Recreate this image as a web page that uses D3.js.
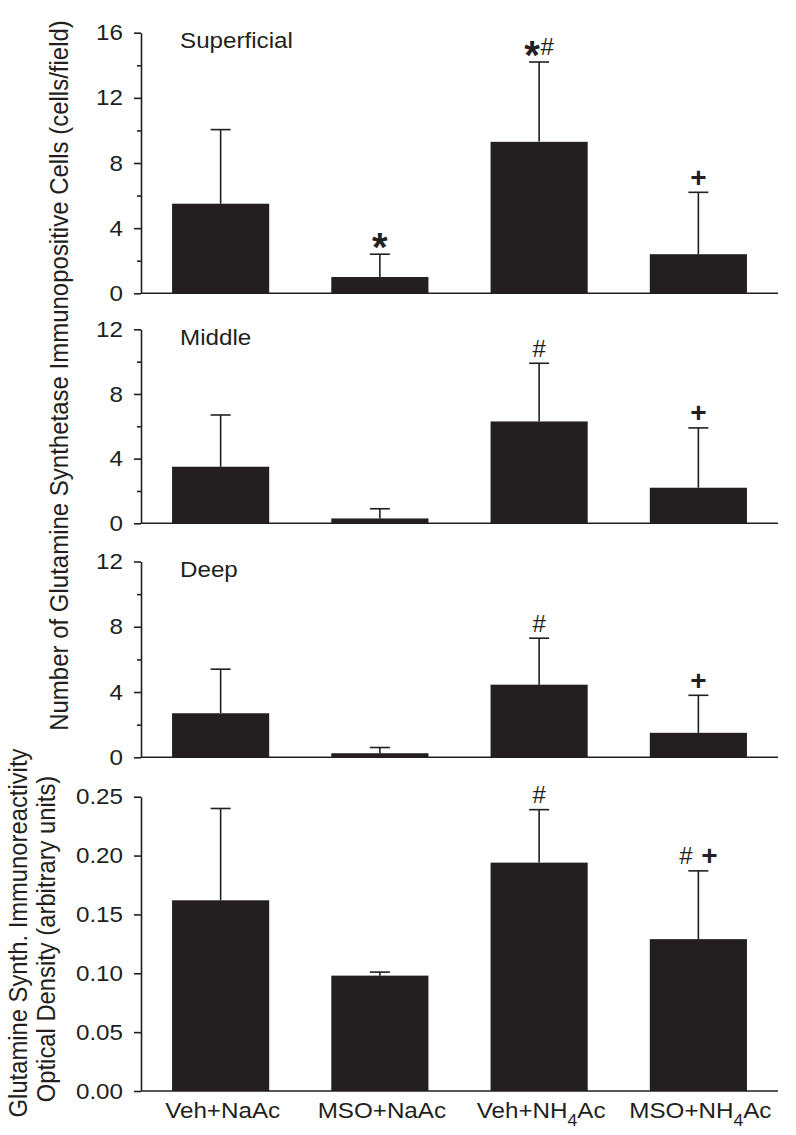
<!DOCTYPE html>
<html><head><meta charset="utf-8">
<script src="https://cdn.jsdelivr.net/npm/d3@7"></script>
<style>html,body{margin:0;padding:0;background:#fff;}</style>
</head><body>
<svg id="chart" width="796" height="1135"></svg>
<script>
// ---------- data ----------
const categories = ["Veh+NaAc", "MSO+NaAc", "Veh+NH4Ac", "MSO+NH4Ac"];
const panelNames = ["Superficial", "Middle", "Deep"];

const superficialMean = [5.5, 1.0, 9.3, 2.4];
const superficialErr  = [4.55, 1.4, 4.9, 3.8];
const superficialSig  = ["", "*", "*#", "+"];

const middleMean = [3.5, 0.3, 6.3, 2.2];
const middleErr  = [3.2, 0.6, 3.6, 3.7];
const middleSig  = ["", "", "#", "+"];

const deepMean = [2.7, 0.25, 4.45, 1.5];
const deepErr  = [2.7, 0.35, 2.85, 2.3];
const deepSig  = ["", "", "#", "+"];

const odMean = [0.162, 0.098, 0.194, 0.129];
const odErr  = [0.078, 0.003, 0.045, 0.058];
const odSig  = ["", "", "#", "# +"];

const countTicks16 = [0, 4, 8, 12, 16];
const countMinor16 = [2, 6, 10, 14];
const countTicks12 = [0, 4, 8, 12];
const countMinor12 = [2, 6, 10];
const odTicks = [0, 0.05, 0.10, 0.15, 0.20, 0.25];

const countAxisTitle = "Number of Glutamine Synthetase Immunopositive Cells (cells/field)";
const odAxisTitle = ["Glutamine Synth. Immunoreactivity", "Optical Density (arbitrary units)"];

// ---------- layout ----------
const INK = "#231f20";
const FONT = "'Liberation Sans', Arial, Helvetica, sans-serif";
const SX = 1.1;      // horizontal stretch of the lettering
const FS = 22;       // font size of horizontal lettering
const svg = d3.select("#chart");
const left = 141, right = 778;

const x = d3.scaleBand().domain(categories).range([left, right])
  .paddingInner(0.39).paddingOuter(0.195);

const panels = [
  {mean: superficialMean, err: superficialErr, sig: superficialSig, ticks: countTicks16, minor: countMinor16, max: 16, label: panelNames[0], top: 32.7, bottom: 293.3, fmt: d3.format("d")},
  {mean: middleMean, err: middleErr, sig: middleSig, ticks: countTicks12, minor: countMinor12, max: 12, label: panelNames[1], top: 329.3, bottom: 523.3, fmt: d3.format("d")},
  {mean: deepMean, err: deepErr, sig: deepSig, ticks: countTicks12, minor: countMinor12, max: 12, label: panelNames[2], top: 561.5, bottom: 757.3, fmt: d3.format("d")},
  {mean: odMean, err: odErr, sig: odSig, ticks: odTicks, minor: [], max: 0.25, label: null, top: 796.7, bottom: 1091, fmt: d3.format(".2f")}
];

const glyphStyle = {
  "*": {size: 40, weight: "bold", adv: 16, base: 22},
  "#": {size: 24, weight: "normal", adv: 14, base: 8.4},
  "+": {size: 28, weight: "bold", adv: 17, base: 9.5},
  " ": {size: 0, weight: "normal", adv: 8, base: 0}
};

panels.forEach((p, pi) => {
  const y = d3.scaleLinear().domain([0, p.max]).range([p.bottom, p.top]);
  const g = svg.append("g");
  const data = categories.map((c, i) => ({c, m: p.mean[i], e: p.err[i], s: p.sig[i]}));

  // bars
  g.selectAll("rect.bar").data(data).join("rect")
    .attr("x", d => x(d.c)).attr("width", x.bandwidth())
    .attr("y", d => y(d.m)).attr("height", d => y(0) - y(d.m))
    .attr("fill", INK);

  // error bars (upper only)
  const eb = g.selectAll("g.eb").data(data).join("g");
  eb.append("line")
    .attr("x1", d => x(d.c) + x.bandwidth() / 2).attr("x2", d => x(d.c) + x.bandwidth() / 2)
    .attr("y1", d => y(d.m)).attr("y2", d => y(d.m + d.e))
    .attr("stroke", INK).attr("stroke-width", 1.6);
  eb.append("line")
    .attr("x1", d => x(d.c) + x.bandwidth() / 2 - 10).attr("x2", d => x(d.c) + x.bandwidth() / 2 + 10)
    .attr("y1", d => y(d.m + d.e)).attr("y2", d => y(d.m + d.e))
    .attr("stroke", INK).attr("stroke-width", 1.6);

  // y axis
  const ax = g.append("g").attr("transform", `translate(${left},0)`)
    .call(d3.axisLeft(y).tickValues(p.ticks).tickFormat(p.fmt).tickSize(7).tickSizeOuter(0).tickPadding(11));
  ax.select(".domain").attr("stroke", INK).attr("stroke-width", 1.6);
  ax.selectAll(".tick line").attr("stroke", INK).attr("stroke-width", 1.6);
  ax.selectAll(".tick text").attr("fill", INK).style("font-family", FONT).style("font-size", FS + "px")
    .attr("x", -18 / SX).attr("transform", `scale(${SX},1)`);

  if (p.minor.length) {
    const mx = g.append("g").attr("transform", `translate(${left},0)`)
      .call(d3.axisLeft(y).tickValues(p.minor).tickFormat("").tickSize(4).tickSizeOuter(0));
    mx.select(".domain").remove();
    mx.selectAll(".tick line").attr("stroke", INK).attr("stroke-width", 1.6);
  }

  // baseline
  g.append("line").attr("x1", left).attr("x2", right)
    .attr("y1", y(0)).attr("y2", y(0)).attr("stroke", INK).attr("stroke-width", 1.6);

  // panel label
  if (p.label) {
    g.append("text").attr("transform", `translate(180,${p.top + 15.5}) scale(${SX},1)`)
      .attr("fill", INK).style("font-family", FONT).style("font-size", FS + "px").text(p.label);
  }

  // significance marks
  data.forEach(d => {
    if (!d.s) return;
    const chars = d.s.split("");
    const total = d3.sum(chars, ch => glyphStyle[ch].adv);
    const cy = y(d.m + d.e) - 15;
    let cx = x(d.c) + x.bandwidth() / 2 - total / 2;
    chars.forEach(ch => {
      const st = glyphStyle[ch];
      if (ch !== " ") {
        g.append("text").attr("x", cx + st.adv / 2).attr("y", cy + st.base)
          .attr("text-anchor", "middle").attr("fill", INK)
          .style("font-family", FONT).style("font-size", st.size + "px")
          .style("font-weight", st.weight).text(ch);
      }
      cx += st.adv;
    });
  });

  // x category labels on the last panel
  if (pi === panels.length - 1) {
    categories.forEach(c => {
      const t = g.append("text")
        .attr("transform", `translate(${x(c) + x.bandwidth() / 2 + 2},1118) scale(${SX},1)`)
        .attr("text-anchor", "middle").attr("fill", INK)
        .style("font-family", FONT).style("font-size", FS + "px");
      let prevSub = false;
      c.split(/(\d)/).filter(s => s.length).forEach(part => {
        if (/^\d$/.test(part)) {
          t.append("tspan").attr("dy", 8).style("font-size", "16px").text(part);
          prevSub = true;
        } else {
          const ts = t.append("tspan").text(part);
          if (prevSub) ts.attr("dy", -8);
          prevSub = false;
        }
      });
    });
  }
});

// axis titles
svg.append("text")
  .attr("transform", `translate(68,375.5) rotate(-90) scale(1,${SX})`)
  .attr("text-anchor", "middle").attr("fill", INK)
  .style("font-family", FONT).style("font-size", "24px").text(countAxisTitle);

svg.append("text")
  .attr("transform", `translate(27,933) rotate(-90) scale(1,${SX})`)
  .attr("text-anchor", "middle").attr("fill", INK)
  .style("font-family", FONT).style("font-size", "23.8px").text(odAxisTitle[0]);
svg.append("text")
  .attr("transform", `translate(55,939) rotate(-90) scale(1,${SX})`)
  .attr("text-anchor", "middle").attr("fill", INK)
  .style("font-family", FONT).style("font-size", "23.8px").text(odAxisTitle[1]);
</script>
</body></html>
